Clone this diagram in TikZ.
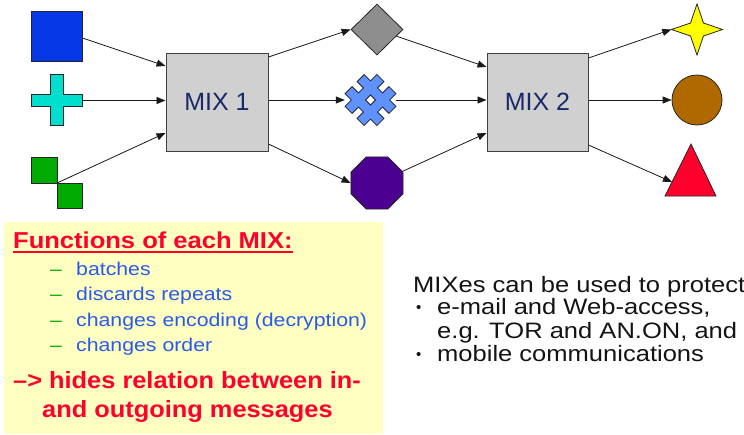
\documentclass[tikz,border=0pt]{standalone}
\usepackage{fontspec}
\setmainfont{Liberation Sans}
\newfontfamily\titlefont[FakeStretch=1.11]{Liberation Sans}
\newfontfamily\listfont[FakeStretch=1.15]{Liberation Sans}
\newfontfamily\hidefont[FakeStretch=1.08]{Liberation Sans}
\newfontfamily\rightfont[FakeStretch=1.145]{Liberation Sans}
\usetikzlibrary{arrows.meta,shapes.geometric,calc}
\definecolor{sqblue}{RGB}{5,55,230}
\definecolor{crosscyan}{RGB}{0,222,205}
\definecolor{sqgreen}{RGB}{0,170,0}
\definecolor{diagray}{RGB}{142,142,142}
\definecolor{snowblue}{RGB}{95,145,255}
\definecolor{octpurple}{RGB}{75,0,145}
\definecolor{staryellow}{RGB}{255,255,0}
\definecolor{circbrown}{RGB}{175,105,0}
\definecolor{trired}{RGB}{255,0,45}
\definecolor{mixgray}{RGB}{208,208,208}
\definecolor{mixtext}{RGB}{25,40,105}
\definecolor{noteyellow}{RGB}{255,255,194}
\definecolor{notered}{RGB}{255,0,45}
\definecolor{noteblue}{RGB}{40,90,235}
\definecolor{notegreen}{RGB}{0,170,0}
\definecolor{rtext}{RGB}{20,20,20}
\begin{document}
\begin{tikzpicture}[x=1pt,y=-1pt,
  shapeline/.style={draw=black!85, line width=0.8pt},
  ghost/.style={inner sep=0pt, minimum size=51pt, circle},
  mixbox/.style={rectangle, draw=black!75, line width=1pt, fill=mixgray, minimum width=102pt, minimum height=98pt, inner sep=0pt, font=\fontsize{25}{30}\selectfont, text=mixtext},
  conn/.style={line width=0.8pt, draw=black!90, -{Triangle[length=9pt,width=7pt]}},
  txt/.style={anchor=base west, inner sep=0pt},
  titletxt/.style={txt, text=notered, font=\titlefont\bfseries\fontsize{23}{28}\selectfont},
  hidetxt/.style={txt, text=notered, font=\hidefont\bfseries\fontsize{23.5}{28}\selectfont},
  dashtxt/.style={txt, text=notegreen, font=\listfont\fontsize{18.5}{22}\selectfont},
  listtxt/.style={txt, text=noteblue, font=\listfont\fontsize{18.5}{22}\selectfont},
  righttxt/.style={txt, text=rtext, font=\rightfont\fontsize{22.3}{26}\selectfont},
  bullettxt/.style={txt, text=rtext, font=\fontsize{15}{18}\selectfont}]
\useasboundingbox (0,0) rectangle (744,434);
\fill[white] (0,0) rectangle (744,434);

% ---- sources ----
\node[rectangle, shapeline, fill=sqblue, minimum width=51pt, minimum height=50pt, inner sep=0pt] (blue) at (56.5,36) {};
\node[ghost] (cross) at (56.5,100.5) {};
\filldraw[shapeline, fill=crosscyan] (50,74) -- (63,74) -- (63,94.5) -- (82,94.5) -- (82,106.5) -- (63,106.5) -- (63,125) -- (50,125) -- (50,106.5) -- (31,106.5) -- (31,94.5) -- (50,94.5) -- cycle;
\filldraw[shapeline, fill=sqgreen] (31,157) rectangle (57,183);
\filldraw[shapeline, fill=sqgreen] (57,183) rectangle (82,208);
\coordinate (greenJ) at (57,183);

% ---- mixes ----
\node[mixbox] (mix1) at (217,102) {MIX 1};
\node[mixbox, minimum width=101pt] (mix2) at (537.5,102) {MIX 2};

% ---- middle ----
\node[diamond, shapeline, fill=diagray, minimum width=52pt, minimum height=51pt, inner sep=0pt] (dia) at (377,29.5) {};
\node[ghost] (snow) at (370.5,100) {};
\begin{scope}[shift={(370.5,100)}, rotate=45]
\filldraw[shapeline, fill=snowblue, even odd rule]
 (-13.5,22.5) -- (-3.5,22.5) -- (-3.5,13.5) -- (3.5,13.5) -- (3.5,22.5) -- (13.5,22.5) -- (13.5,13.5) -- (22.5,13.5) -- (22.5,3.5) -- (13.5,3.5) -- (13.5,-3.5) -- (22.5,-3.5) -- (22.5,-13.5) -- (13.5,-13.5) -- (13.5,-22.5) -- (3.5,-22.5) -- (3.5,-13.5) -- (-3.5,-13.5) -- (-3.5,-22.5) -- (-13.5,-22.5) -- (-13.5,-13.5) -- (-22.5,-13.5) -- (-22.5,-3.5) -- (-13.5,-3.5) -- (-13.5,3.5) -- (-22.5,3.5) -- (-22.5,13.5) -- (-13.5,13.5) -- cycle
 (-3.5,-3.5) rectangle (3.5,3.5);
\end{scope}
\node[regular polygon, regular polygon sides=8, minimum size=56.3pt, shapeline, fill=octpurple, inner sep=0pt] (oct) at (377,183) {};

% ---- outputs ----
\node[ghost] (star) at (697,29.5) {};
\filldraw[shapeline, fill=staryellow] (697,4) -- (703.5,23) -- (722.5,29.5) -- (703.5,36) -- (697,55) -- (690.5,36) -- (671.5,29.5) -- (690.5,23) -- cycle;
\node[circle, shapeline, fill=circbrown, minimum size=50pt, inner sep=0pt] (circ) at (697,100) {};
\filldraw[shapeline, fill=trired] (665,196) -- (691,144) -- (716,196) -- cycle;
\coordinate (triL) at (672,182);

% ---- connectors ----
\draw[conn] ($(blue.east)+(0,2)$) -- ($(mix1.west)+(0,-36)$);
\draw[conn] (cross.east) -- (cross.east -| mix1.west);
\draw[conn] (greenJ) -- ($(mix1.west)+(0,31)$);
\draw[conn] ($(mix1.east)+(0,-45)$) -- (dia.west);
\draw[conn] (snow.west -| mix1.east) -- (snow.west);
\draw[conn] ($(mix1.east)+(0,42)$) -- (oct.west);
\draw[conn] (dia) -- ($(mix2.west)+(0,-35)$);
\draw[conn] (snow.east) -- (snow.east -| mix2.west);
\draw[conn] (oct) -- ($(mix2.west)+(0,31)$);
\draw[conn] ($(mix2.east)+(0,-44)$) -- (star.west);
\draw[conn] (circ.west -| mix2.east) -- (circ.west);
\draw[conn] ($(mix2.east)+(0,43)$) -- (triL);

% ---- note box ----
\fill[noteyellow] (4,222) rectangle (383,434);
\node[titletxt] (title) at (13,248.7) {Functions of each MIX:};
\draw[notered, line width=2pt] ($(title.base west)+(0,3)$) -- ($(title.base east)+(0,3)$);
\node[dashtxt] (d1) at (50,275) {–};
\node[listtxt] (l1) at (76,275) {batches};
\node[dashtxt] (d2) at (50,300.5) {–};
\node[listtxt] (l2) at (76,300.5) {discards repeats};
\node[dashtxt] (d3) at (50,326) {–};
\node[listtxt] (l3) at (76,326) {changes encoding (decryption)};
\node[dashtxt] (d4) at (50,351.5) {–};
\node[listtxt] (l4) at (76,351.5) {changes order};
\node[hidetxt] (h1) at (13,388) {–> hides relation between in-};
\node[hidetxt] (h2) at (42,417) {and outgoing messages};

% ---- right text ----
\node[righttxt] (r0) at (413,292) {MIXes can be used to protect};
\node[bullettxt] (b1) at (416,312) {•};
\node[righttxt] (r1) at (437,314.5) {e-mail and Web-access,};
\node[righttxt] (r2) at (437,338) {e.g. TOR and AN.ON, and};
\node[bullettxt] (b2) at (416,359.5) {•};
\node[righttxt] (r3) at (437,361.5) {mobile communications};
\end{tikzpicture}
\end{document}
